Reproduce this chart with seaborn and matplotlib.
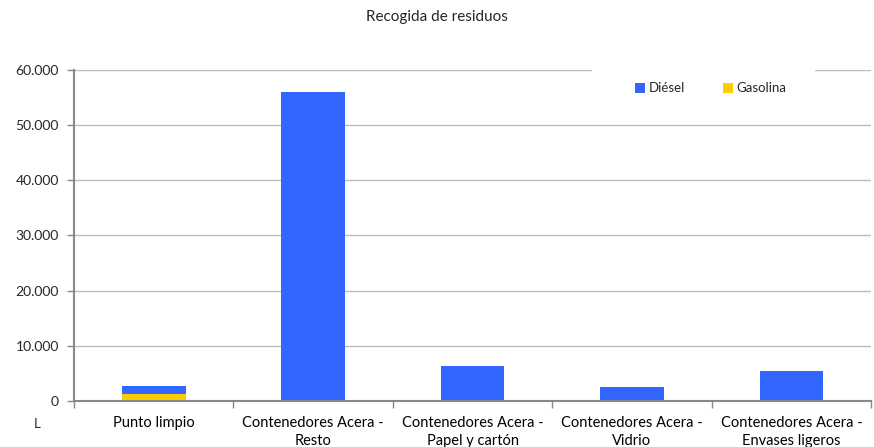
import matplotlib
matplotlib.use("Agg")
import matplotlib.pyplot as plt
from matplotlib.ticker import FuncFormatter, FixedLocator
from matplotlib.patches import Rectangle
import seaborn as sns
import pandas as pd

categories = [
    "Punto limpio",
    "Contenedores Acera -\nResto",
    "Contenedores Acera -\nPapel y cartón",
    "Contenedores Acera -\nVidrio",
    "Contenedores Acera -\nEnvases ligeros",
]
diesel = [1400, 56000, 6400, 2500, 5450]
gasolina = [1350, 0, 0, 0, 0]

sns.set_theme(style="white")
plt.rcParams["font.family"] = ["Lato", "DejaVu Sans"]

df = pd.DataFrame({"categoria": categories, "Diésel": diesel, "Gasolina": gasolina})
df["total"] = df["Diésel"] + df["Gasolina"]

blue = "#3366FF"
yellow = "#FFCC00"

fig = plt.figure(figsize=(8.74, 4.47), dpi=100)
ax = fig.add_axes([0.0847, 0.103, 0.912, 0.741])

# stacked bars: total in blue, gasoline drawn over the bottom part
sns.barplot(data=df, x="categoria", y="total", color=blue, width=0.4,
            saturation=1, ax=ax, label="Diésel")
sns.barplot(data=df, x="categoria", y="Gasolina", color=yellow, width=0.4,
            saturation=1, ax=ax, label="Gasolina")
for p in ax.patches:
    p.set_linewidth(0)

ax.set_ylim(0, 60000)
ax.set_xlim(-0.5, len(categories) - 0.5)
ax.set_yticks(range(0, 60001, 10000))
ax.yaxis.set_major_formatter(FuncFormatter(lambda v, _: f"{int(v):,}".replace(",", ".")))
ax.grid(axis="y", color="#BBBBBB", linewidth=1)
ax.set_axisbelow(True)

for side in ("top", "right"):
    ax.spines[side].set_visible(False)
for side in ("left", "bottom"):
    ax.spines[side].set_color("#888888")
    ax.spines[side].set_linewidth(1.5)

ax.tick_params(axis="x", which="major", length=0, pad=11, labelsize=10.5, colors="black")
ax.xaxis.set_minor_locator(FixedLocator([i - 0.5 for i in range(len(categories) + 1)]))
ax.tick_params(axis="x", which="minor", length=5, width=1, color="#888888", bottom=True)
ax.tick_params(axis="y", length=5, width=1, color="#888888", left=True, labelsize=10, pad=6)
for lab in ax.get_xticklabels():
    lab.set_linespacing(1.3)

ax.set_xlabel("")
ax.set_ylabel("")
fig.text(0.042, 0.052, "L", fontsize=9.5, ha="center", va="center")
fig.suptitle("Recogida de residuos", y=0.978, fontsize=11)

# white legend background interrupting the top gridline
ax.add_patch(Rectangle((0.65, 0.88), 0.28, 0.13, transform=ax.transAxes,
                       facecolor="white", edgecolor="none", zorder=2.5, clip_on=False))
leg = ax.legend(loc="center left", bbox_to_anchor=(0.704, 0.944), ncol=2, frameon=False,
                fontsize=9.5, handlelength=0.75, handleheight=0.75, handletextpad=0.25,
                columnspacing=2.9, borderpad=0, borderaxespad=0)
leg.set_zorder(3)

fig.savefig("out.png", dpi=100)
